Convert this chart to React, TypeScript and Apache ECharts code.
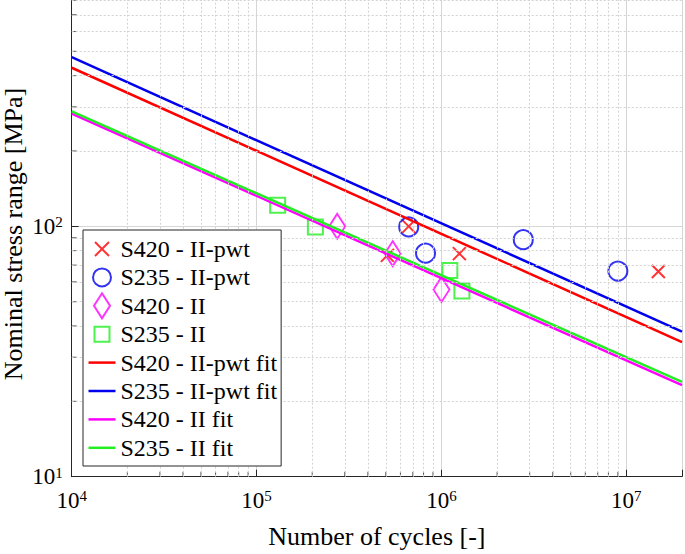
import React, { useEffect, useRef } from "react";
import * as echarts from "echarts";

// ---- data ----
const fitX = [1e4, 2e7];

const s420PwtX = [5.1e5, 6.65e5, 1.25e6, 1.49e7];
const s420PwtY = [76.6, 100, 77.8, 66];

const s235PwtX = [6.65e5, 8.2e5, 2.77e6, 9.0e6];
const s235PwtY = [99.5, 78.2, 88.5, 66.3];

const s420IIX = [2.73e5, 5.45e5, 1.0e6];
const s420IIY = [100, 77.8, 55.9];

const s235IIX = [1.3e5, 2.08e5, 1.11e6, 1.29e6];
const s235IIY = [121.3, 99.4, 66.7, 55.2];

const s420PwtFit = [430, 34.5];
const s235PwtFit = [474, 38];
const s420IIFit = [282, 23.2];
const s235IIFit = [288, 23.9];

const seriesNames = [
  "S420 - II-pwt",
  "S235 - II-pwt",
  "S420 - II",
  "S235 - II",
  "S420 - II-pwt fit",
  "S235 - II-pwt fit",
  "S420 - II fit",
  "S235 - II fit",
];

// tick labels shown (exponents of 10)
const xLabelExponents = [4, 5, 6, 7];
const yLabelExponents = [1, 2];

// axis decorations (minor ticks / minor grid positions)
const minorMantissas = [2, 3, 4, 5, 6, 7, 8, 9];
const xDecades = [1e4, 1e5, 1e6];
const yDecades = [10, 100];

const xAxisTitle = "Number of cycles [-]";
const yAxisTitle = "Nominal stress range [MPa]";

const FONT = "Liberation Serif";
const RED = "#ff0000";
const BLUE = "#0000ee";
const MAGENTA = "#ff00ff";
const GREEN = "#22ee22";
const AXIS = "#262626";

// page offset: the reference is cropped at the top (10^3 lies 24px above the page)
const OFFSET = 24;
const H = 554 + OFFSET;

// legend icons drawn in a 27 x 26 box (corners pinned so the icon is not stretched)
const PIN = "M0,0M27,26";
const ICON_X = `path://${PIN}M6.5,6L20.5,20M6.5,20L20.5,6`;
const ICON_O = `path://${PIN}M4.5,13A9,9 0 1,1 22.5,13A9,9 0 1,1 4.5,13Z`;
const ICON_D = `path://${PIN}M13.5,0.5L21.5,13L13.5,25.5L5.5,13Z`;
const ICON_S = `path://${PIN}M6,5.5L21,5.5L21,20.5L6,20.5Z`;
const ICON_L = `path://${PIN}M0,13L27,13`;

const zip = (xs: number[], ys: number[]) => xs.map((x, i) => [x, ys[i]]);

const powLabel = (allowed: number[]) => (v: number) => {
  const e = Math.log10(v);
  const r = Math.round(e);
  if (Math.abs(e - r) > 1e-6 || allowed.indexOf(r) < 0) return "";
  return `{b|10}{s|${r}}`;
};

const richLabel = {
  b: { fontFamily: FONT, fontSize: 23, lineHeight: 23, color: "#000", padding: [9, 0, 0, 0], verticalAlign: "bottom" },
  s: { fontFamily: FONT, fontSize: 15, lineHeight: 15, color: "#000", verticalAlign: "top" },
};

export default function App() {
  const ref = useRef<HTMLDivElement>(null);
  useEffect(() => {
    const chart = echarts.init(ref.current as HTMLDivElement, null, { renderer: "svg" });
    const xMinor: number[] = [];
    xDecades.forEach((d) => minorMantissas.forEach((m) => xMinor.push(d * m)));
    const yMinor: number[] = [];
    yDecades.forEach((d) => minorMantissas.forEach((m) => yMinor.push(d * m)));

    const scatterBase = { type: "scatter", z: 3 };
    const lineBase = { type: "line", symbol: "none", z: 4 };
    const colors = [RED, BLUE, MAGENTA, GREEN, RED, BLUE, MAGENTA, GREEN];
    const icons = [ICON_X, ICON_O, ICON_D, ICON_S, ICON_L, ICON_L, ICON_L, ICON_L];

    const option: any = {
      animation: false,
      backgroundColor: "#fff",
      textStyle: { fontFamily: FONT },
      grid: {
        left: 71.7,
        right: 3,
        top: 0,
        bottom: 77.3,
        containLabel: false,
        outerBoundsMode: "none",
      },
      xAxis: {
        type: "log",
        logBase: 10,
        min: 1e4,
        max: 2e7,
        name: xAxisTitle,
        nameLocation: "middle",
        nameGap: 47,
        nameTextStyle: { fontFamily: FONT, fontSize: 26, color: "#000" },
        axisLine: { show: true, lineStyle: { color: AXIS, width: 1 } },
        axisTick: { show: true, inside: true, length: 7, lineStyle: { color: AXIS } },
        axisLabel: { fontFamily: FONT, formatter: powLabel(xLabelExponents), rich: richLabel, margin: 12, showMinLabel: true, showMaxLabel: true },
        splitLine: { show: true, lineStyle: { color: "#d6d6d6", width: 1 } },
        minorTick: { show: false },
        minorSplitLine: { show: false },
      },
      yAxis: {
        type: "log",
        logBase: 10,
        min: 10,
        max: 1000,
        axisLine: { show: true, lineStyle: { color: AXIS, width: 1 } },
        axisTick: { show: true, inside: true, length: 7, lineStyle: { color: AXIS } },
        axisLabel: { fontFamily: FONT, formatter: powLabel(yLabelExponents), rich: richLabel, margin: 9, showMaxLabel: false },
        splitLine: { show: true, lineStyle: { color: "#d6d6d6", width: 1 } },
        minorTick: { show: false },
        minorSplitLine: { show: false },
      },
      legend: {
        orient: "vertical",
        left: 83,
        top: 230 + OFFSET,
        data: seriesNames.map((name, i) => ({
          name,
          icon: icons[i],
          itemStyle: { color: "none", borderColor: colors[i], borderWidth: i < 4 ? 2 : 2.5 },
        })),
        itemWidth: 27,
        itemHeight: 26,
        itemGap: -2.6,
        padding: [3.5, 4, 2.7, 3],
        borderColor: AXIS,
        borderWidth: 1,
        backgroundColor: "#fff",
        selectedMode: false,
        textStyle: { fontFamily: FONT, fontSize: 24, color: "#000" },
        z: 10,
      },
      graphic: [
        {
          type: "text",
          x: 13,
          y: 234 + OFFSET,
          rotation: Math.PI / 2,
          style: {
            text: yAxisTitle,
            font: `26px ${FONT}`,
            fill: "#000",
            textAlign: "center",
            textVerticalAlign: "middle",
          },
          silent: true,
        },
      ],
      series: [
        {
          type: "scatter",
          name: "_xminor",
          data: xMinor.map((v) => [v, 10]),
          symbol: "rect",
          symbolSize: [1, 5],
          symbolOffset: [0, -2.5],
          itemStyle: { color: AXIS },
          silent: true,
          clip: false,
          z: 1,
          markLine: {
            silent: true,
            symbol: "none",
            label: { show: false },
            lineStyle: { color: "#d2d2d2", width: 1, type: [2, 2] },
            data: xMinor.map((v) => ({ xAxis: v })),
          },
        },
        {
          type: "scatter",
          name: "_yminor",
          data: yMinor.map((v) => [1e4, v]),
          symbol: "rect",
          symbolSize: [5, 1],
          symbolOffset: [2.5, 0],
          itemStyle: { color: AXIS },
          silent: true,
          clip: false,
          z: 1,
          markLine: {
            silent: true,
            symbol: "none",
            label: { show: false },
            lineStyle: { color: "#d2d2d2", width: 1, type: [2, 2] },
            data: yMinor.map((v) => ({ yAxis: v })),
          },
        },
        {
          ...scatterBase,
          name: seriesNames[0],
          data: zip(s420PwtX, s420PwtY),
          symbol: "path://M0,0L10,10M0,10L10,0",
          symbolSize: 13,
          itemStyle: { color: "none", borderColor: RED, borderWidth: 2 },
        },
        {
          ...scatterBase,
          name: seriesNames[1],
          data: zip(s235PwtX, s235PwtY),
          symbol: "circle",
          symbolSize: 19,
          itemStyle: { color: "none", borderColor: BLUE, borderWidth: 2 },
        },
        {
          ...scatterBase,
          name: seriesNames[2],
          data: zip(s420IIX, s420IIY),
          symbol: "diamond",
          symbolSize: [16, 25],
          itemStyle: { color: "none", borderColor: MAGENTA, borderWidth: 2 },
        },
        {
          ...scatterBase,
          name: seriesNames[3],
          data: zip(s235IIX, s235IIY),
          symbol: "rect",
          symbolSize: 15,
          itemStyle: { color: "none", borderColor: GREEN, borderWidth: 2 },
        },
        {
          ...lineBase,
          name: seriesNames[4],
          data: zip(fitX, s420PwtFit),
          lineStyle: { color: RED, width: 2.5 },
          itemStyle: { color: RED },
        },
        {
          ...lineBase,
          name: seriesNames[5],
          data: zip(fitX, s235PwtFit),
          lineStyle: { color: BLUE, width: 2.5 },
          itemStyle: { color: BLUE },
        },
        {
          ...lineBase,
          name: seriesNames[6],
          data: zip(fitX, s420IIFit),
          lineStyle: { color: MAGENTA, width: 2.5 },
          itemStyle: { color: MAGENTA },
        },
        {
          ...lineBase,
          name: seriesNames[7],
          data: zip(fitX, s235IIFit),
          lineStyle: { color: GREEN, width: 2.5 },
          itemStyle: { color: GREEN },
        },
      ],
    };
    chart.setOption(option);
    return () => chart.dispose();
  }, []);
  return (
    <div
      ref={ref}
      style={{ position: "absolute", left: 0, top: -OFFSET, width: 685, height: H }}
    />
  );
}
